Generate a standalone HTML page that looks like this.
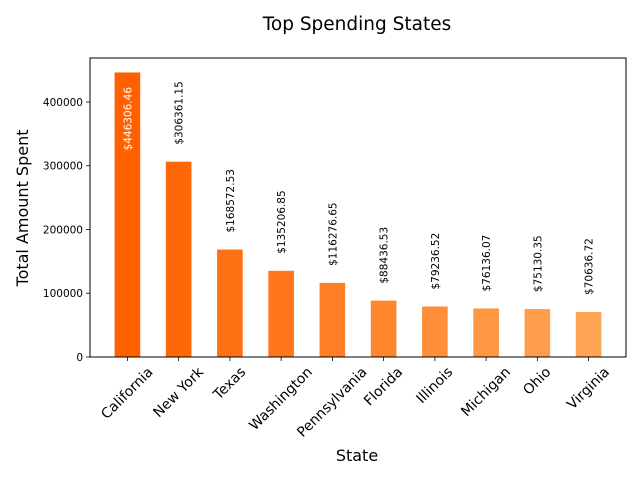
<!DOCTYPE html>
<html><head><meta charset="utf-8"><style>
body{margin:0;background:#fff}
svg{display:block;font-family:"DejaVu Sans","Liberation Sans",sans-serif}
</style></head><body>
<svg id="chart" width="640" height="480" viewBox="0 0 640 480">
<rect width="640" height="480" fill="#fff"/>
<text x="357" y="30" font-size="18.5" text-anchor="middle">Top Spending States</text>
<g id="plot"></g>
<text x="357" y="461" font-size="16" text-anchor="middle">State</text>
<text x="28" y="208" font-size="16" text-anchor="middle" transform="rotate(-90 28 208)">Total Amount Spent</text>
</svg>
<script>
const categories = ["California","New York","Texas","Washington","Pennsylvania","Florida","Illinois","Michigan","Ohio","Virginia"];
const values = [446306.46,306361.15,168572.53,135206.85,116276.65,88436.53,79236.52,76136.07,75130.35,70636.72];
const labels = ["$446306.46","$306361.15","$168572.53","$135206.85","$116276.65","$88436.53","$79236.52","$76136.07","$75130.35","$70636.72"];
const yTicks = [0,100000,200000,300000,400000];
const yTickLabels = ["0","100000","200000","300000","400000"];

const NS="http://www.w3.org/2000/svg";
const g=document.getElementById('plot');
const L=90,R=626,T=58,B=357;
const yMax=469000;
const y=v=>B-(v/yMax)*(B-T);
const step=(R-L)/(categories.length-1+2*0.73);
const x=i=>L+step*(0.73+i);
const bw=step*0.5;
function mk(t,a){const e=document.createElementNS(NS,t);for(const k in a)e.setAttribute(k,a[k]);g.appendChild(e);return e;}
function col(i){const f=i/(categories.length-1);return `rgb(255,${Math.round(96+f*69)},${Math.round(0+f*85)})`;}

values.forEach((v,i)=>{
  const r=mk('rect',{x:x(i)-bw/2,y:y(v),width:bw,height:B-y(v),fill:col(i)});
  
  
  const inside = v>0.9*Math.max(...values);
  const by = inside ? y(v)+78 : y(v)-17;
  const t=mk('text',{x:0,y:0,'font-size':10.5,fill:inside?'#fff':'#000','text-anchor':'start',transform:`translate(${x(i)+4},${by}) rotate(-90)`});
  t.textContent=labels[i];
  
  
  mk('line',{x1:x(i),x2:x(i),y1:B,y2:B+4,stroke:'#000','stroke-width':0.8});
  const tl=mk('text',{x:0,y:0,'font-size':14,'text-anchor':'middle','dominant-baseline':'central'});
  tl.textContent=categories[i];
  
  
  const w=tl.getComputedTextLength();
  const hb=(w+14)*0.7071;
  tl.setAttribute('transform',`translate(${x(i)},${B+8+hb/2}) rotate(-45)`);
});
yTicks.forEach((v,i)=>{
  mk('line',{x1:L-4,x2:L,y1:y(v),y2:y(v),stroke:'#000','stroke-width':0.8});
  const t=mk('text',{x:L-7,y:y(v)+4,'font-size':10.5,'text-anchor':'end'});
  t.textContent=yTickLabels[i];
  
  
});
const f=mk('rect',{x:L,y:T,width:R-L,height:B-T,fill:'none',stroke:'#000','stroke-width':1});


</script>
</body></html>
